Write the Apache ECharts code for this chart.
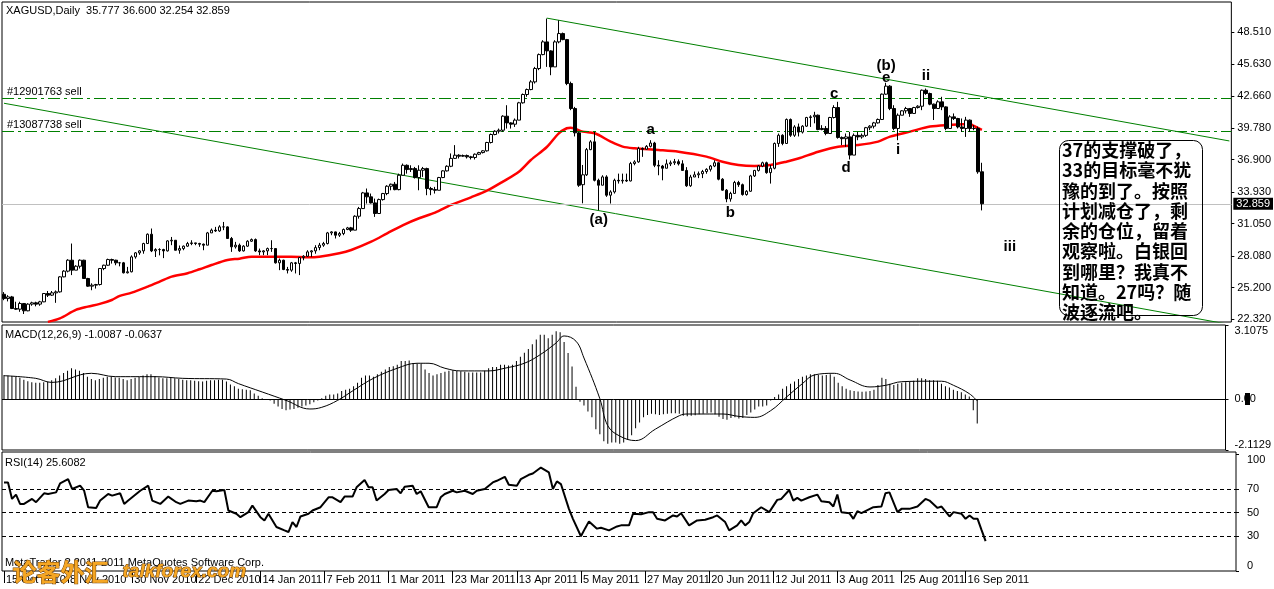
<!DOCTYPE html>
<html><head><meta charset="utf-8">
<script src="https://cdn.jsdelivr.net/npm/echarts@6/dist/echarts.min.js"></script>
<style>html,body{margin:0;padding:0;background:#fff}#c{width:1274px;height:589px}</style>
</head><body><div id="c"></div>
<script>
// ---------- data ----------
const xTickLabels = ['15 Oct 2010','8 Nov 2010','30 Nov 2010','22 Dec 2010','14 Jan 2011','7 Feb 2011','1 Mar 2011','23 Mar 2011','13 Apr 2011','5 May 2011','27 May 2011','20 Jun 2011','12 Jul 2011','3 Aug 2011','25 Aug 2011','16 Sep 2011'];
const priceTicks = [48.51,45.63,42.66,39.78,36.90,33.93,31.05,28.08,25.20,22.32];
const macdTicks = [-2.1129,0,3.1075];
const rsiTicks = [0,30,50,70,100];
const rsiLevels = [70,50,30];
// [open, close, low, high]
const ohlc = [
[24.60,24.21,24.06,24.80],[24.21,24.36,23.95,24.52],[24.36,23.30,23.25,24.45],[23.30,23.24,23.18,23.92],[23.24,23.76,23.00,23.92],
[23.76,23.09,22.80,23.80],[23.09,23.70,23.05,23.78],[23.70,23.82,23.55,23.92],[23.82,23.70,23.50,23.92],[23.70,23.91,23.55,24.00],
[23.91,24.67,23.88,24.70],[24.67,24.52,24.35,24.90],[24.52,24.73,24.45,24.90],[24.73,24.82,23.82,24.95],[24.82,26.19,24.75,26.25],
[26.19,26.71,26.15,26.80],[26.71,27.71,26.60,27.80],[27.71,26.80,26.35,29.23],[26.80,27.16,26.80,27.25],[27.16,27.71,26.95,27.78],
[27.71,26.04,26.00,27.75],[26.04,25.34,25.28,26.10],[25.34,25.43,24.97,25.60],[25.43,25.49,25.12,25.55],[25.49,26.95,25.40,27.00],
[26.95,27.25,26.80,27.30],[27.25,27.77,27.20,27.85],[27.77,27.71,27.40,27.85],[27.71,27.47,27.25,27.75],[27.47,27.47,27.15,27.55],
[27.47,26.56,26.50,27.55],[26.56,26.65,26.50,27.10],[26.65,28.01,26.60,28.15],[28.01,28.38,27.85,28.45],[28.38,28.56,28.20,28.62],
[28.56,29.23,28.30,29.30],[29.23,30.08,29.20,30.15],[30.08,28.56,28.45,30.60],[28.56,28.68,28.00,28.80],[28.68,28.68,28.15,28.80],
[28.68,28.56,27.90,28.75],[28.56,29.47,28.50,29.53],[29.47,29.53,29.08,29.83],[29.53,28.62,28.60,29.55],[28.62,28.77,28.30,29.05],
[28.77,28.99,28.62,29.05],[28.99,29.23,28.93,29.38],[29.23,29.29,29.08,29.53],[29.29,29.23,29.08,29.30],[29.23,29.17,28.93,29.30],
[29.17,29.08,28.62,29.23],[29.08,30.20,29.08,30.29],[30.20,30.45,30.20,30.60],[30.45,30.38,30.29,30.75],[30.38,30.75,30.29,30.90],
[30.75,30.75,30.45,31.20],[30.75,29.69,29.69,30.80],[29.69,28.93,28.47,29.83],[28.93,29.08,28.77,29.38],[29.08,28.56,28.47,29.23],
[28.56,28.99,28.50,29.08],[28.99,29.44,28.93,29.53],[29.44,29.59,29.38,29.69],[29.59,28.56,28.47,29.69],[28.56,28.47,28.17,28.77],
[28.47,28.56,28.17,28.62],[28.56,28.77,28.17,28.86],[28.77,28.77,28.47,29.53],[28.77,27.47,27.40,28.77],[27.47,27.71,26.80,27.86],
[27.71,26.86,26.80,27.75],[26.86,26.80,26.50,27.10],[26.80,27.47,26.65,27.55],[27.47,27.41,26.50,27.55],[27.41,27.95,26.35,28.01],
[27.95,28.07,27.70,28.17],[28.07,28.47,28.01,28.62],[28.47,28.56,28.01,28.62],[28.56,28.86,28.30,29.08],[28.86,29.08,28.62,29.29],
[29.08,29.23,28.93,29.38],[29.23,30.20,29.15,30.29],[30.20,30.29,29.99,30.35],[30.29,29.99,29.69,30.32],[29.99,30.14,29.83,30.29],
[30.14,30.51,29.99,30.60],[30.51,30.66,30.45,30.75],[30.66,30.45,30.29,30.75],[30.45,31.72,30.45,31.81],[31.72,32.42,31.50,32.57],
[32.42,33.85,32.40,33.94],[33.85,33.49,32.88,34.25],[33.49,32.94,32.88,33.79],[32.94,31.97,31.66,33.33],[31.97,33.24,31.97,33.33],
[33.24,33.79,33.15,33.85],[33.79,34.46,33.64,34.55],[34.46,34.64,34.09,34.70],[34.64,34.15,34.09,34.85],[34.15,35.46,34.09,35.61],
[35.46,36.37,35.46,36.53],[36.37,35.98,35.61,36.45],[35.98,36.07,35.76,36.37],[36.07,35.25,35.16,36.22],[35.25,35.92,34.09,36.37],
[35.92,36.07,35.31,36.22],[36.07,34.25,33.64,36.15],[34.25,34.15,33.64,34.40],[34.15,34.09,33.79,34.40],[34.09,35.25,34.09,35.31],
[35.25,35.86,35.20,35.92],[35.86,36.28,35.80,36.37],[36.28,37.00,36.20,37.45],[37.00,37.29,36.95,38.21],[37.29,37.20,36.99,37.38],
[37.20,37.26,37.14,37.35],[37.26,37.14,36.99,37.35],[37.14,37.08,36.90,37.23],[37.08,37.38,36.90,37.45],[37.38,37.53,37.30,37.60],
[37.53,37.69,37.45,37.75],[37.69,38.45,37.62,38.51],[38.45,39.18,38.36,39.27],[39.18,39.48,39.11,39.57],[39.48,39.57,39.27,39.72],
[39.57,40.85,39.42,40.94],[40.85,40.24,39.72,41.85],[40.24,40.12,39.72,40.30],[40.12,40.49,39.87,40.64],[40.49,42.07,40.49,42.16],
[42.07,42.83,42.00,42.92],[42.83,43.28,42.62,43.37],[43.28,43.98,43.22,44.14],[43.98,45.20,43.83,45.35],[45.20,46.47,45.05,46.57],
[46.47,47.63,46.41,47.78],[47.63,46.81,45.35,49.76],[46.81,45.35,44.59,46.87],[45.35,47.63,45.35,47.78],[47.63,48.39,47.50,49.60],
[48.39,47.84,47.78,48.48],[47.84,43.83,43.68,47.90],[43.83,41.55,41.40,44.00],[41.55,39.33,39.00,41.70],[39.33,34.55,34.40,39.42],
[34.60,35.50,32.90,36.40],[35.50,37.80,35.40,37.95],[37.80,38.51,37.75,38.66],[38.51,35.00,34.90,39.42],[35.00,34.55,32.27,35.15],
[34.55,35.31,34.55,35.46],[35.31,33.64,33.49,35.46],[33.64,33.94,32.88,34.09],[33.94,35.00,33.79,35.15],[35.00,34.94,34.70,35.61],
[34.94,35.00,34.70,35.61],[35.00,34.94,34.85,35.61],[34.94,36.53,34.90,36.68],[36.53,36.68,36.37,36.83],[36.68,37.90,36.60,38.06],
[37.90,37.84,37.14,38.00],[37.84,38.10,37.80,38.21],[38.10,38.40,38.00,38.66],[38.40,36.37,36.20,38.51],[36.37,36.30,35.46,36.83],
[36.30,36.10,35.00,36.40],[36.10,36.50,36.10,36.90],[36.50,36.60,36.30,36.80],[36.60,36.70,36.40,36.95],[36.70,36.50,36.35,36.90],
[36.50,35.90,35.85,36.83],[35.90,34.50,34.40,36.20],[34.50,35.30,34.40,35.50],[35.30,35.50,35.30,35.80],[35.50,35.60,35.20,35.80],
[35.60,35.80,35.20,35.95],[35.80,36.00,35.60,36.10],[36.00,36.30,35.80,36.40],[36.30,36.60,36.20,36.83],[36.60,35.10,35.00,36.65],
[35.10,34.10,34.05,35.20],[34.10,33.30,33.00,34.20],[33.30,33.80,33.05,33.95],[33.80,34.80,33.80,34.95],[34.80,34.60,34.40,34.95],
[34.60,33.70,33.60,34.70],[33.70,34.00,33.60,34.10],[34.00,35.40,33.95,35.50],[35.40,35.90,35.30,35.95],[35.90,36.30,35.80,36.40],
[36.30,36.60,36.20,36.70],[36.60,35.70,35.60,36.70],[35.70,36.10,34.70,36.40],[36.10,38.36,36.00,38.45],[38.36,39.11,38.05,39.27],
[39.11,38.36,38.20,39.20],[38.36,40.55,38.36,40.64],[40.55,39.11,38.96,40.64],[39.11,39.87,38.96,40.03],[39.87,39.40,39.00,40.18],
[39.40,39.94,39.27,40.03],[39.94,40.73,39.87,40.79],[40.73,40.79,39.87,40.94],[40.79,40.94,40.20,41.25],[40.94,39.63,39.57,41.00],
[39.63,39.73,39.57,40.03],[39.73,39.27,39.11,39.95],[39.27,40.73,39.27,40.79],[40.73,41.64,40.64,41.85],[41.64,38.91,38.80,42.16],
[38.91,38.80,38.21,39.00],[38.80,38.96,38.06,39.27],[38.96,37.30,36.90,39.42],[37.30,39.10,37.30,39.27],[39.10,38.96,38.66,39.42],
[38.96,39.10,38.80,39.27],[39.10,39.80,38.96,39.87],[39.80,39.94,39.57,40.03],[39.94,40.24,39.73,40.33],[40.24,40.55,40.18,40.64],
[40.55,42.86,40.50,42.92],[42.86,43.59,42.80,43.90],[43.59,41.55,41.40,43.68],[41.55,39.73,39.57,41.85],[39.73,40.94,38.66,41.10],
[40.94,41.34,40.94,41.40],[41.34,41.55,41.10,41.70],[41.55,41.10,40.79,41.60],[41.10,41.64,41.10,41.70],[41.64,41.76,41.55,41.85],
[41.76,43.22,41.40,43.28],[43.22,42.92,42.80,43.37],[42.92,41.95,41.85,43.00],[41.95,41.55,40.50,42.00],[41.55,42.16,41.55,42.30],
[42.16,41.70,41.40,42.62],[41.70,39.73,39.57,41.75],[39.73,40.79,39.70,40.94],[40.79,40.64,40.50,41.10],[40.64,39.87,39.73,40.70],
[39.87,39.73,39.42,40.64],[39.73,40.49,38.96,40.79],[40.49,39.73,39.42,40.55],[39.73,39.73,39.57,40.03],[39.73,35.777,35.60,39.90],
[35.777,32.859,32.254,36.60]
];
// moving average: [bar, price]
const maLine = [[11,22.08],[14,22.40],[18,23.17],[21,23.47],[24,23.72],[27,24.08],[29,24.45],[32,24.75],[36,25.30],[39,25.75],[42,26.21],[46,26.52],[49,26.88],[52,27.27],[56,27.73],[59,27.85],[62,28.03],[66,28.03],[69,28.03],[72,28.03],[76,27.98],[79,28.03],[84,28.34],[87,28.64],[92,29.40],[96,30.16],[100,30.92],[104,31.54],[108,32.05],[112,32.75],[117,33.45],[121,34.05],[125,34.88],[129,35.79],[132,36.85],[136,38.04],[139,39.29],[141,39.75],[142,39.80],[145,39.44],[148,39.29],[152,38.53],[155,38.07],[158,37.92],[164,37.77],[169,37.61],[176,37.16],[180,36.70],[184,36.40],[188,36.31],[192,36.40],[196,36.70],[199,36.99],[204,37.61],[209,38.07],[214,38.22],[219,38.53],[222,38.99],[227,39.44],[232,39.90],[237,40.05],[242,40.14],[243,39.96],[245,39.60]];
const macdHist = [1.02,1.00,0.98,0.95,0.90,0.82,0.76,0.72,0.70,0.70,0.72,0.75,0.80,0.88,1.00,1.10,1.20,1.30,1.25,1.20,
1.10,0.95,0.85,0.80,0.85,0.90,0.95,0.95,0.92,0.90,0.85,0.80,0.85,0.90,0.95,1.00,1.05,1.05,0.98,0.92,
0.88,0.88,0.90,0.88,0.85,0.82,0.80,0.80,0.78,0.76,0.75,0.78,0.80,0.80,0.82,0.82,0.75,0.62,0.55,0.45,
0.42,0.40,0.38,0.25,0.15,0.05,-0.02,-0.05,-0.18,-0.30,-0.40,-0.45,-0.42,-0.40,-0.35,-0.30,-0.25,-0.20,-0.12,-0.05,
0.05,0.15,0.20,0.20,0.25,0.35,0.40,0.45,0.55,0.70,0.90,1.00,1.00,0.95,1.05,1.15,1.25,1.35,1.38,1.45,
1.60,1.60,1.62,1.50,1.50,1.50,1.25,1.10,1.00,1.05,1.10,1.15,1.20,1.22,1.20,1.18,1.15,1.12,1.12,1.12,
1.12,1.20,1.30,1.35,1.35,1.45,1.45,1.42,1.45,1.60,1.78,1.95,2.10,2.30,2.50,2.70,2.70,2.55,2.70,2.85,
2.80,2.40,1.94,1.37,0.53,-0.10,-0.25,-0.50,-0.75,-1.25,-1.45,-1.75,-1.85,-1.80,-1.80,-1.85,-1.80,-1.70,-1.50,-1.20,
-0.96,-0.75,-0.65,-0.60,-0.62,-0.65,-0.62,-0.60,-0.58,-0.58,-0.60,-0.68,-0.70,-0.68,-0.66,-0.62,-0.60,-0.58,-0.55,-0.62,
-0.72,-0.82,-0.85,-0.78,-0.75,-0.80,-0.78,-0.65,-0.55,-0.42,-0.30,-0.30,-0.25,-0.05,0.10,0.20,0.45,0.55,0.65,0.75,
0.85,0.95,1.00,1.05,1.05,1.02,1.00,1.02,1.05,0.95,0.70,0.55,0.45,0.38,0.35,0.33,0.32,0.33,0.35,0.40,
0.60,0.90,0.85,0.65,0.60,0.65,0.70,0.72,0.75,0.78,0.88,0.88,0.85,0.80,0.80,0.78,0.65,0.55,0.50,0.40,
0.35,0.30,0.20,0.12,-0.45,-1.0087];
const macdSignal = [[0,0.99],[8,0.88],[12,0.71],[22,1.09],[28,0.95],[38,0.95],[45,0.88],[56,0.85],[59,0.66],[65,0.31],[71,-0.04],[77,-0.40],[80,-0.33],[84,-0.04],[88,0.38],[93,0.88],[99,1.30],[104,1.51],[107,1.51],[111,1.30],[115,1.19],[122,1.19],[126,1.30],[131,1.51],[135,1.87],[139,2.36],[141,2.65],[144,2.43],[146,1.73],[150,0.03],[152,-1.10],[155,-1.53],[159,-1.72],[164,-1.24],[170,-0.68],[172,-0.61],[181,-0.61],[185,-0.71],[189,-0.75],[193,-0.47],[197,0.10],[201,0.66],[204,1.02],[209,1.09],[213,0.81],[218,0.52],[222,0.59],[226,0.74],[233,0.76],[236,0.76],[239,0.59],[243,0.24],[245,-0.0637]];
const rsiLine = [[0,75.7],[1,75.7],[2,61.6],[3,65.3],[4,57.3],[5,57.3],[7,61.6],[8,58.8],[10,66.4],[11,65.8],[13,67.2],[14,74.9],[16,78.5],[17,70.1],[19,72.9],[20,68.6],[21,54.5],[23,53.9],[24,60.2],[26,65.8],[27,64.4],[29,66.4],[30,57.3],[31,60.2],[33,65.8],[34,68.6],[36,72.9],[37,60.2],[39,57.3],[41,63.6],[43,58.8],[44,57.3],[46,60.2],[48,59.6],[49,60.2],[50,58.8],[52,68.6],[53,68.1],[55,69.2],[56,51.7],[58,48.9],[59,46.0],[61,50.3],[62,55.9],[64,46.0],[65,43.2],[66,48.9],[68,37.6],[70,34.7],[71,33.3],[72,41.8],[73,37.6],[74,46.6],[76,48.9],[77,51.7],[79,54.5],[81,63.0],[82,63.0],[84,58.8],[85,63.6],[87,63.6],[88,71.5],[90,77.7],[91,71.5],[92,71.5],[93,60.2],[95,65.8],[96,69.2],[98,70.1],[99,66.4],[100,72.0],[102,72.9],[103,65.8],[104,68.1],[106,54.5],[108,54.5],[109,63.0],[110,65.8],[112,68.6],[113,67.2],[115,68.6],[117,65.8],[118,68.6],[120,70.1],[122,75.7],[123,77.1],[125,80.5],[126,73.7],[128,72.9],[129,78.5],[131,82.2],[132,83.3],[134,88.4],[136,84.2],[137,70.1],[138,76.6],[139,74.3],[141,53.1],[142,44.6],[144,29.7],[145,36.2],[146,42.4],[148,36.2],[149,37.0],[151,34.7],[153,38.1],[154,39.0],[156,39.0],[157,48.9],[159,48.5],[161,50.3],[162,50.3],[163,44.6],[165,43.2],[167,47.5],[168,46.6],[169,49.4],[171,39.0],[173,43.2],[175,43.8],[177,46.0],[178,47.5],[180,41.8],[181,34.7],[183,39.0],[184,43.2],[185,39.0],[186,41.8],[187,49.4],[189,54.5],[191,50.3],[193,60.8],[194,61.6],[196,69.2],[197,60.2],[198,62.5],[199,60.2],[201,63.0],[203,65.3],[204,59.6],[206,58.8],[207,55.1],[208,65.3],[209,50.3],[211,49.4],[212,44.6],[213,51.1],[214,49.4],[217,54.5],[219,55.1],[220,66.4],[221,67.2],[223,50.3],[224,53.1],[226,53.1],[228,55.1],[230,61.6],[231,60.2],[233,53.9],[234,55.1],[236,46.6],[237,50.3],[239,48.9],[240,44.6],[241,47.5],[242,44.6],[243,44.6],[244,34.9],[245,25.6082]];
const sellLines = [['#12901763 sell',42.48],['#13087738 sell',39.50]];
const lastPrice = 32.859;
const channelUpper = [[136,49.80],[307,38.59]];
const channelLower = [[0,42.03],[307,21.85]];
const waveLabels = [[149,31.38,'(a)'],[162,39.59,'a'],[182,32.02,'b'],[208,42.88,'c'],[211,36.13,'d'],[221,45.43,'(b)'],[221,44.34,'e'],[224,37.77,'i'],[231,44.52,'ii'],[252,28.92,'iii']];
const noteLines = ['37的支撑破了，','33的目标毫不犹','豫的到了。按照','计划减仓了，剩','余的仓位，留着','观察啦。白银回','到哪里？我真不','知道。27吗？随','波逐流吧。'];
const N = 308;
const categories = Array.from({length: N}, (_, i) => String(i));

// ---------- chart ----------
const FONT = '"Liberation Sans Narrow","Liberation Sans",Arial,sans-serif';
const chart = echarts.init(document.getElementById('c'), null, {renderer: 'canvas', width: 1274, height: 589});
const GL = 2, GW = 1234;
const gridBase = {left: GL, width: GW, show: true, borderColor: '#000', borderWidth: 1, backgroundColor: '#fff'};
const tickShown = idx => idx % 16 === 0 && idx / 16 < xTickLabels.length;
function xAx(g) {
  return {
    type: 'category', gridIndex: g, data: categories, boundaryGap: true,
    axisLine: {show: false},
    axisTick: {show: g === 2, alignWithLabel: true, interval: (i) => tickShown(i), length: 12, lineStyle: {color: '#000'}},
    axisLabel: {show: g === 2, interval: (i) => tickShown(i), formatter: (v, i) => xTickLabels[i / 16] || '',
      align: 'left', margin: 3, padding: [0, 0, 0, 2], color: '#000', fontFamily: FONT, fontSize: 11},
    splitLine: {show: false}
  };
}
const yLabelBase = {color: '#000', fontFamily: FONT, fontSize: 11, align: 'left'};
const option = {
  animation: false,
  backgroundColor: '#fff',
  grid: [
    Object.assign({top: 2, height: 320}, gridBase),
    Object.assign({top: 325, height: 125}, gridBase),
    Object.assign({top: 452, height: 119}, gridBase)
  ],
  xAxis: [xAx(0), xAx(1), xAx(2)],
  yAxis: [
    {type: 'value', gridIndex: 0, position: 'right', min: 22.07, max: 51.27, scale: true,
     splitLine: {show: false}, axisLine: {show: false},
     axisTick: {show: true, customValues: priceTicks, length: 3, lineStyle: {color: '#000'}},
     axisLabel: Object.assign({customValues: priceTicks, formatter: v => v.toFixed(3), margin: 6}, yLabelBase)},
    {type: 'value', gridIndex: 1, position: 'right', min: -2.1129, max: 3.1075,
     splitLine: {show: false}, axisLine: {show: false},
     axisTick: {show: true, customValues: macdTicks, length: 3, lineStyle: {color: '#000'}},
     axisLabel: Object.assign({customValues: macdTicks, formatter: v => (v === 0 ? '0.00' : v.toFixed(4)), margin: 9,
       verticalAlignMinLabel: 'bottom', verticalAlignMaxLabel: 'top'}, yLabelBase)},
    {type: 'value', gridIndex: 2, position: 'right', min: 0, max: 101.7,
     splitLine: {show: false}, axisLine: {show: false},
     axisTick: {show: true, customValues: rsiTicks, length: 3, lineStyle: {color: '#000'}},
     axisLabel: Object.assign({customValues: rsiTicks, formatter: v => String(v), margin: 11,
       verticalAlignMinLabel: 'bottom', verticalAlignMaxLabel: 'top'}, yLabelBase)}
  ],
  series: [
    {type: 'candlestick', name: 'XAGUSD', xAxisIndex: 0, yAxisIndex: 0, data: ohlc, barWidth: 3,
     itemStyle: {color: '#fff', color0: '#000', borderColor: '#000', borderColor0: '#000', borderWidth: 1},
     z: 5,
     markLine: {silent: true, symbol: ['none', 'none'], animation: false,
       data: [
         ...sellLines.map(s => ({yAxis: s[1], lineStyle: {color: '#008000', width: 1, type: [12, 4, 3, 4]},
           label: {show: true, position: 'insideStartTop', distance: [5, 1], formatter: s[0], color: '#000', fontFamily: FONT, fontSize: 11}})),
         {yAxis: lastPrice, lineStyle: {color: '#c0c0c0', width: 1, type: 'solid'},
          label: {show: true, position: 'end', distance: 2, formatter: lastPrice.toFixed(3), color: '#fff', backgroundColor: '#000',
            padding: [1, 3, 0, 3], fontFamily: FONT, fontSize: 11}}
       ]}},
    {type: 'line', name: 'MA', xAxisIndex: 0, yAxisIndex: 0, data: maLine, symbol: 'none', smooth: 0.3,
     lineStyle: {color: '#ff0000', width: 2.5}, z: 4},
    {type: 'line', name: 'channel upper', xAxisIndex: 0, yAxisIndex: 0, data: channelUpper, symbol: 'none',
     lineStyle: {color: '#008000', width: 1}, z: 3},
    {type: 'line', name: 'channel lower', xAxisIndex: 0, yAxisIndex: 0, data: channelLower, symbol: 'none',
     lineStyle: {color: '#008000', width: 1}, z: 3},
    {type: 'scatter', name: 'waves', xAxisIndex: 0, yAxisIndex: 0, symbolSize: 1, itemStyle: {color: 'rgba(0,0,0,0)', opacity: 1},
     data: waveLabels.map(w => ({value: [w[0], w[1]], name: w[2]})),
     label: {show: true, position: 'inside', opacity: 1, formatter: p => p.name, color: '#000', fontFamily: '"Liberation Sans",Arial,sans-serif', fontSize: 15, fontWeight: 'bold'}, z: 10},
    {type: 'bar', name: 'MACD', xAxisIndex: 1, yAxisIndex: 1, data: macdHist, barWidth: 1, itemStyle: {color: '#000'},
     markLine: {silent: true, symbol: ['none', 'none'], data: [{yAxis: 0}], lineStyle: {color: '#000', width: 1, type: 'solid'}, label: {show: false}}},
    {type: 'line', name: 'Signal', xAxisIndex: 1, yAxisIndex: 1, data: macdSignal, symbol: 'none', smooth: 0.4,
     lineStyle: {color: '#000', width: 1}},
    {type: 'line', name: 'RSI', xAxisIndex: 2, yAxisIndex: 2, data: rsiLine, symbol: 'none',
     lineStyle: {color: '#000', width: 2},
     markLine: {silent: true, symbol: ['none', 'none'], data: rsiLevels.map(v => ({yAxis: v})),
       lineStyle: {color: '#000', width: 1, type: [4, 3]}, label: {show: false}}}
  ],
  graphic: [
    {type: 'text', left: 6, top: 5, style: {text: 'XAGUSD,Daily  35.777 36.600 32.254 32.859', fill: '#000', font: '11px ' + FONT}},
    {type: 'text', left: 5, top: 329, style: {text: 'MACD(12,26,9) -1.0087 -0.0637', fill: '#000', font: '11px ' + FONT}},
    {type: 'text', left: 5, top: 457, style: {text: 'RSI(14) 25.6082', fill: '#000', font: '11px ' + FONT}},
    {type: 'text', left: 5, top: 557, style: {text: 'MetaTrader ? 2011-2011 MetaQuotes Software Corp.', fill: '#000', font: '11px ' + FONT}},
    {type: 'text', left: 12, top: 559, z: 50, style: {text: '论客外汇', fill: '#f5a623', stroke: '#6b3a00', lineWidth: 1, font: 'bold 24px "Noto Sans CJK SC"'}},
    {type: 'text', left: 122, top: 562, z: 50, style: {text: 'talkforex.com', fill: '#f5a623', stroke: '#6b3a00', lineWidth: 1, font: 'italic bold 19px "Liberation Sans",Arial'}},
    {type: 'rect', z: 60, shape: {x: 1059.5, y: 140.5, width: 143, height: 175, r: 9}, style: {fill: 'none', stroke: '#000', lineWidth: 1}},
    {type: 'text', z: 61, left: 1062, top: 140, style: {text: noteLines.join('\n'), fill: '#000', font: 'bold 18px "Noto Sans CJK SC"', lineHeight: 20.3}},
    {type: 'rect', z: 60, shape: {x: 1245, y: 393, width: 5, height: 12}, style: {fill: '#000'}}
  ]
};
chart.setOption(option);
</script>
</body></html>
